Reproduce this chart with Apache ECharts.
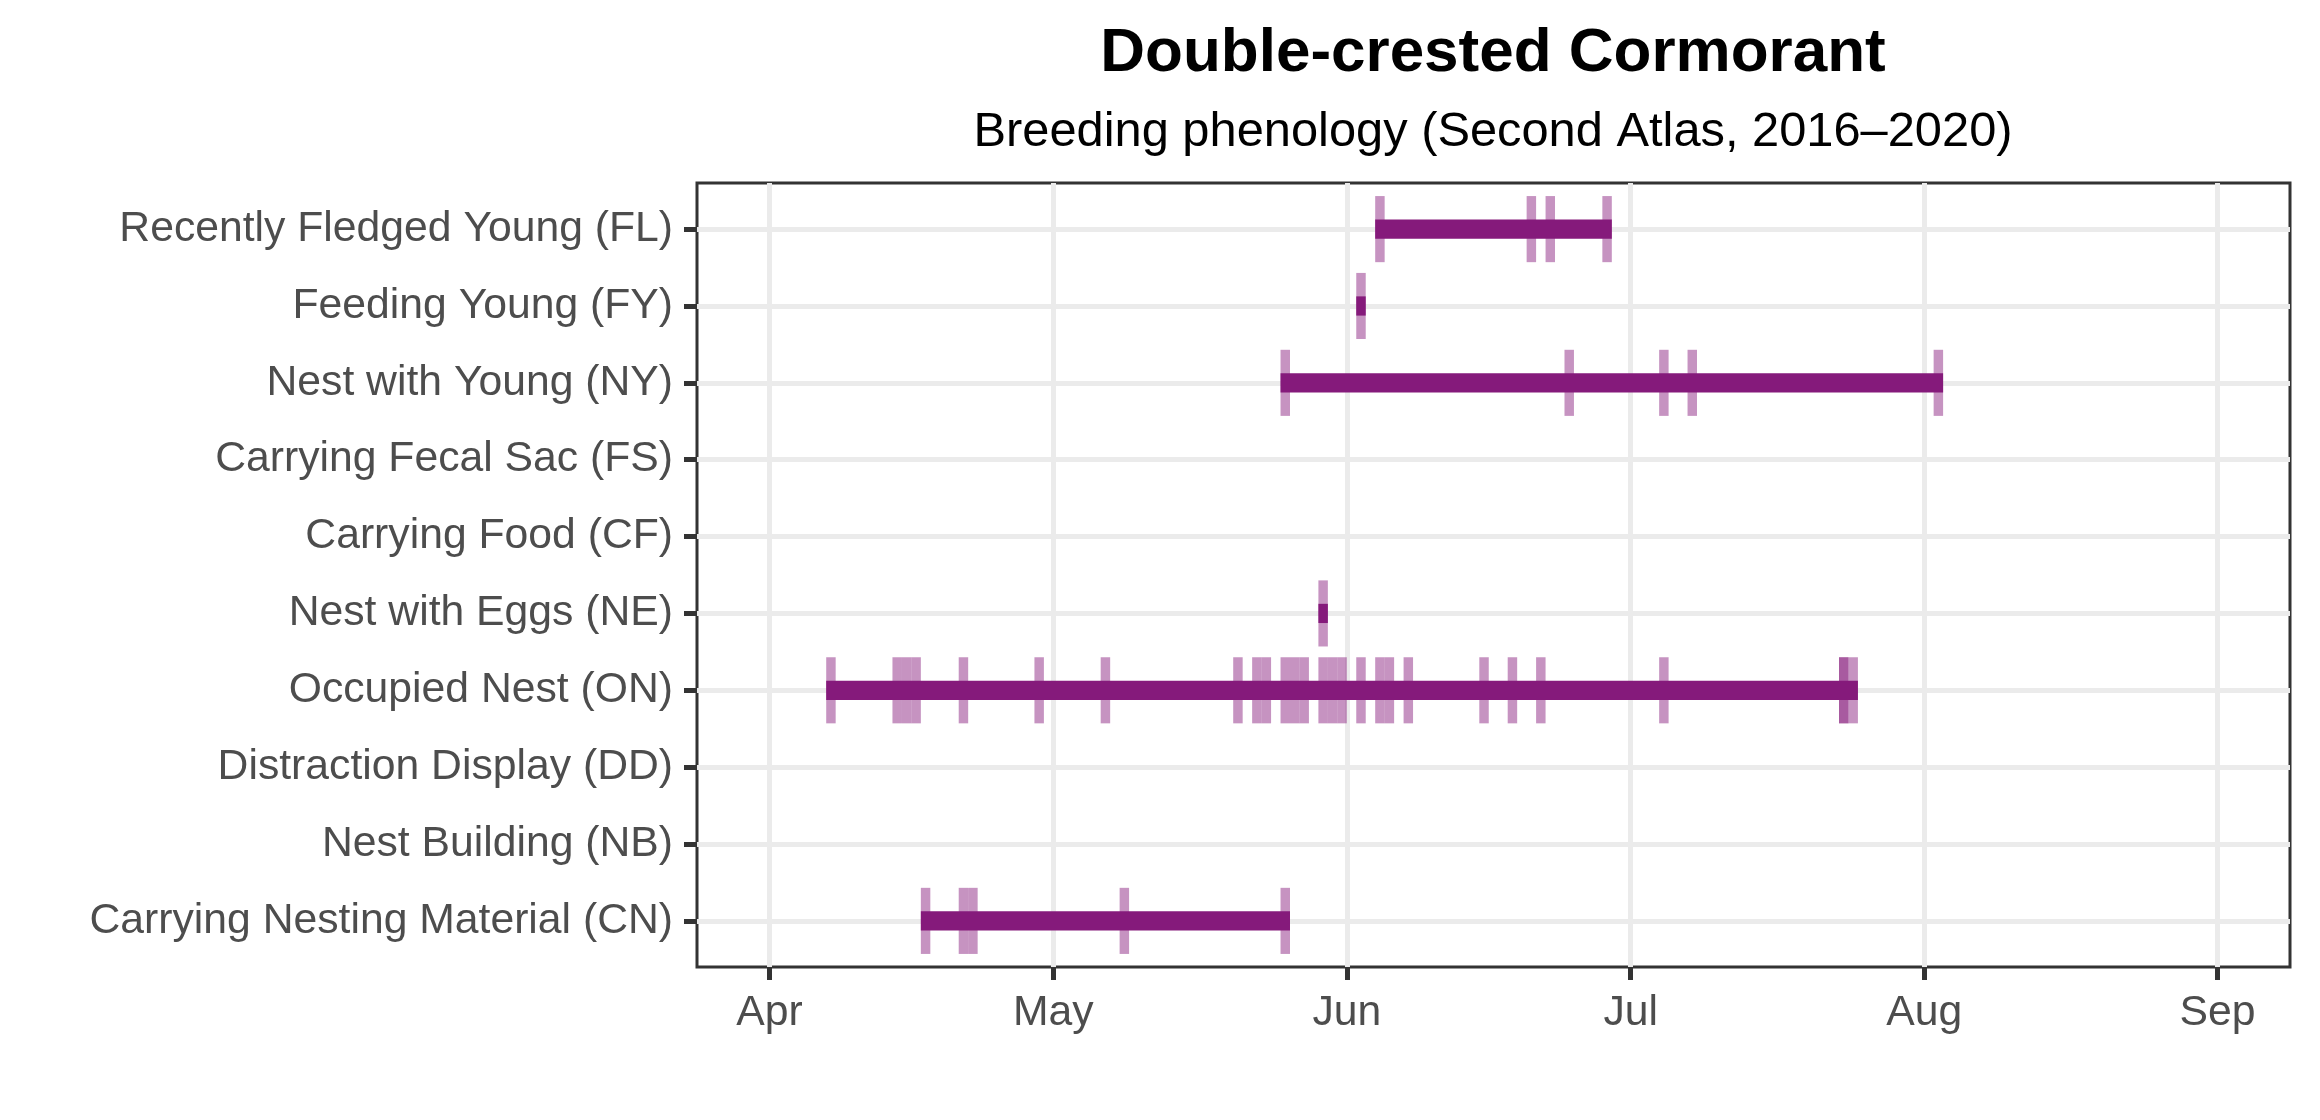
<!DOCTYPE html>
<html>
<head>
<meta charset="utf-8">
<script src="https://cdn.jsdelivr.net/npm/echarts@6/dist/echarts.min.js"></script>
<style>
  html, body { margin: 0; padding: 0; background: #ffffff; }
  #chart { width: 2320px; height: 1120px; }
</style>
</head>
<body>
<div id="chart"></div>
<script>
// ---------- data ----------
const categories = [
  "Recently Fledged Young (FL)",
  "Feeding Young (FY)",
  "Nest with Young (NY)",
  "Carrying Fecal Sac (FS)",
  "Carrying Food (CF)",
  "Nest with Eggs (NE)",
  "Occupied Nest (ON)",
  "Distraction Display (DD)",
  "Nest Building (NB)",
  "Carrying Nesting Material (CN)"
];
// observation dates (month-day) for each behaviour code
const obsFL = ["06-04", "06-20", "06-22", "06-28"];
const obsFY = ["06-02"];
const obsNY = ["05-25", "06-24", "07-04", "07-07", "08-02"];
const obsFS = [];
const obsCF = [];
const obsNE = ["05-29"];
const obsON = ["04-07", "04-14", "04-15", "04-16", "04-21", "04-29", "05-06",
               "05-20", "05-22", "05-23", "05-25", "05-26", "05-27", "05-29",
               "05-30", "05-31", "06-02", "06-04", "06-05", "06-07", "06-15",
               "06-18", "06-21", "07-04", "07-23", "07-23", "07-24"];
const obsDD = [];
const obsNB = [];
const obsCN = ["04-17", "04-21", "04-22", "05-08", "05-25"];

const monthTickDates = ["04-01", "05-01", "06-01", "07-01", "08-01", "09-01"];
const monthTickLabels = ["Apr", "May", "Jun", "Jul", "Aug", "Sep"];
const axisStartDate = "04-01";
const axisEndDate = "09-01";

// ---------- helpers ----------
function dayOffset(md) {
  const [m, d] = md.split("-").map(Number);
  const t = Date.UTC(2019, m - 1, d) - Date.UTC(2019, 3, 1);
  return Math.round(t / 86400000);
}
const rows = [obsFL, obsFY, obsNY, obsFS, obsCF, obsNE, obsON, obsDD, obsNB, obsCN];

const tickData = [];
const barData = [];
rows.forEach((arr, r) => {
  if (!arr.length) return;
  const days = arr.map(dayOffset);
  days.forEach(d => tickData.push([d, r]));
  barData.push([Math.min(...days), Math.max(...days), r]);
});

const monthDays = monthTickDates.map(dayOffset);
const x0 = dayOffset(axisStartDate), x1 = dayOffset(axisEndDate);
const xPad = (x1 - x0) * 0.05;
const rowIdx = categories.map((c, i) => i);

const FONT = 'Arial, "Liberation Sans", Helvetica, sans-serif';
const PURPLE = '#851A7B';
const PURPLE_LIGHT = 'rgba(133,26,123,0.47)';
const TICK_HALF = 0.43;
const BAR_HALF = 0.125;

function rectItem(api, xa, xb, ya, yb, fill) {
  const p0 = api.coord([xa, ya]);
  const p1 = api.coord([xb, yb]);
  return {
    type: 'rect',
    shape: {
      x: Math.min(p0[0], p1[0]),
      y: Math.min(p0[1], p1[1]),
      width: Math.abs(p1[0] - p0[0]),
      height: Math.abs(p1[1] - p0[1])
    },
    style: { fill: fill }
  };
}

const chart = echarts.init(document.getElementById('chart'), null, { renderer: 'canvas' });
chart.setOption({
  animation: false,
  backgroundColor: '#ffffff',
  title: [
    {
      text: 'Double-crested Cormorant',
      left: 1493, top: 23, textAlign: 'center', padding: 0,
      textStyle: { fontFamily: FONT, fontSize: 62, fontWeight: 'bold', color: '#000000', lineHeight: 62 }
    },
    {
      text: 'Breeding phenology (Second Atlas, 2016–2020)',
      left: 1493, top: 108, textAlign: 'center', padding: 0,
      textStyle: { fontFamily: FONT, fontSize: 48.8, fontWeight: 'normal', color: '#000000', lineHeight: 49 }
    }
  ],
  grid: {
    left: 697, top: 183, width: 1593, height: 784,
    show: true, borderColor: '#333333', borderWidth: 3, backgroundColor: 'transparent',
    containLabel: false
  },
  xAxis: {
    type: 'value',
    position: 'bottom',
    min: x0 - xPad, max: x1 + xPad,
    axisLine: { show: false, onZero: false },
    axisTick: { show: true, customValues: monthDays, length: 13, lineStyle: { color: '#333333', width: 5 } },
    axisLabel: {
      customValues: monthDays,
      formatter: v => monthTickLabels[monthDays.indexOf(v)] || '',
      margin: 25, fontSize: 42.7, color: '#4D4D4D', fontFamily: FONT
    },
    splitLine: { show: true, lineStyle: { color: '#EBEBEB', width: 5 } }
  },
  yAxis: {
    type: 'value',
    position: 'left',
    min: -0.6, max: categories.length - 1 + 0.6,
    inverse: true,
    axisLine: { show: false, onZero: false },
    axisTick: { show: true, customValues: rowIdx, length: 13, lineStyle: { color: '#333333', width: 5 } },
    axisLabel: {
      customValues: rowIdx,
      formatter: v => categories[v] || '',
      margin: 24, fontSize: 42.7, color: '#4D4D4D', fontFamily: FONT
    },
    splitLine: { show: true, lineStyle: { color: '#EBEBEB', width: 5 } }
  },
  series: [
    {
      type: 'custom',
      name: 'observations',
      data: tickData,
      encode: { x: 0, y: 1 },
      renderItem: (params, api) => {
        const d = api.value(0), r = api.value(1);
        return rectItem(api, d, d + 1, r - TICK_HALF, r + TICK_HALF, PURPLE_LIGHT);
      },
      z: 3
    },
    {
      type: 'custom',
      name: 'span',
      data: barData,
      encode: { x: [0, 1], y: 2 },
      renderItem: (params, api) => {
        const a = api.value(0), b = api.value(1), r = api.value(2);
        return rectItem(api, a, b + 1, r - BAR_HALF, r + BAR_HALF, PURPLE);
      },
      z: 4
    }
  ]
});
</script>
</body>
</html>
